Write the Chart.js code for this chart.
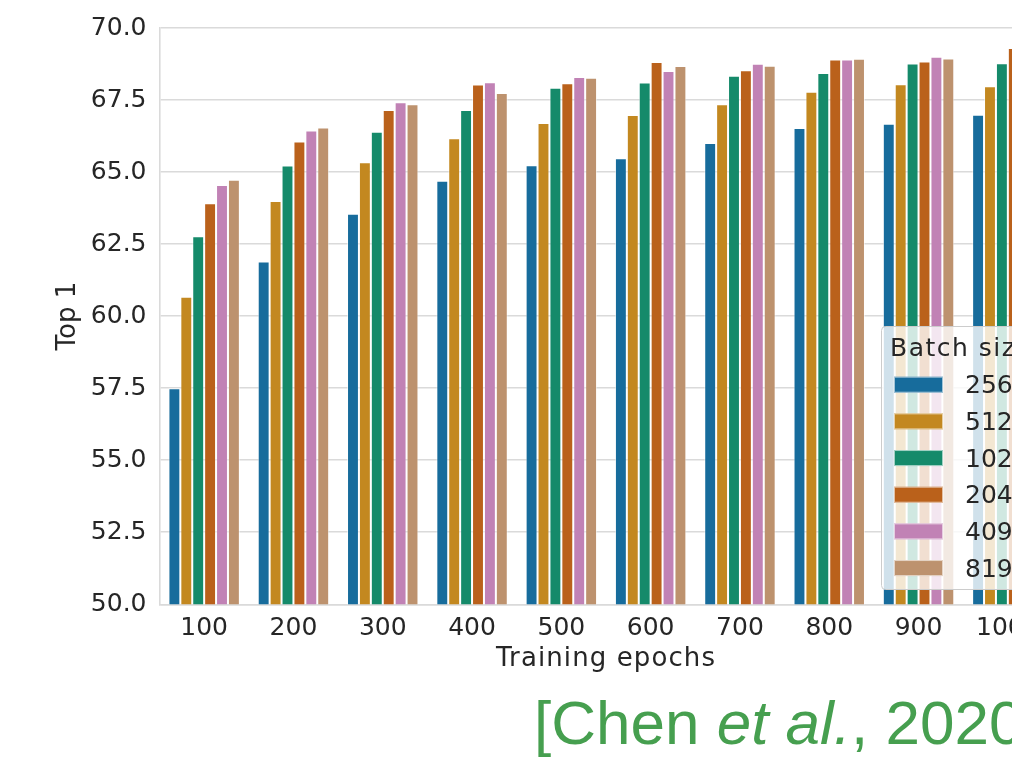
<!DOCTYPE html>
<html>
<head>
<meta charset="utf-8">
<script src="https://cdn.jsdelivr.net/npm/chart.js@4/dist/chart.umd.min.js"></script>
<style>
html,body{margin:0;padding:0;background:#ffffff;overflow:hidden;width:1012px;height:761px;}
#wrap{position:relative;width:1012px;height:761px;overflow:hidden;}
#c{position:absolute;left:0;top:0;}
#cite{position:absolute;left:534px;top:692px;font-family:"Liberation Sans",Arial,sans-serif;font-size:62px;line-height:62px;color:#469f4f;white-space:nowrap;}
</style>
</head>
<body>
<div id="wrap">
<canvas id="c" width="1062" height="761"></canvas>
<div id="cite">[Chen <i>et al.</i>, 2020]</div>
</div>
<script>
// ---- data ----
const categories = ['100','200','300','400','500','600','700','800','900','1000'];
const batchSizes = ['256','512','1024','2048','4096','8192'];
const bs256  = [57.50, 61.90, 63.55, 64.70, 65.24, 65.48, 66.01, 66.53, 66.68, 66.99];
const bs512  = [60.67, 64.00, 65.34, 66.17, 66.70, 66.98, 67.35, 67.79, 68.05, 67.98];
const bs1024 = [62.77, 65.23, 66.40, 67.15, 67.93, 68.11, 68.34, 68.44, 68.77, 68.78];
const bs2048 = [63.92, 66.06, 67.15, 68.04, 68.08, 68.82, 68.53, 68.91, 68.84, 69.31];
const bs4096 = [64.55, 66.44, 67.42, 68.12, 68.30, 68.51, 68.76, 68.91, 69.00, 69.30];
const bs8192 = [64.73, 66.55, 67.35, 67.74, 68.27, 68.68, 68.69, 68.93, 68.94, 69.20];
const yTicks = [50, 52.5, 55, 57.5, 60, 62.5, 65, 67.5, 70];
const xTitle = 'Training epochs';
const yTitle = 'Top 1';
const legendTitle = 'Batch size';

const seriesValues = [bs256, bs512, bs1024, bs2048, bs4096, bs8192];
const colors = ['#176c9c', '#c38820', '#158a6a', '#ba611b', '#c182b5', '#bd926e'];
const textColor = '#262626';
const gridColor = '#dadada';
const FONT = '"DejaVu Sans", sans-serif';

const datasets = batchSizes.map((b, i) => ({
  label: b,
  data: seriesValues[i],
  backgroundColor: colors[i],
  borderColor: 'rgba(255,255,255,0.55)',
  borderWidth: 1,
  categoryPercentage: 0.8,
  barPercentage: 1.0
}));

const boxLegend = {
  id: 'boxLegend',
  afterDraw(chart) {
    const ctx = chart.ctx;
    ctx.save();
    ctx.beginPath();
    ctx.roundRect(881.5, 326.5, 170, 263, 4);
    ctx.fillStyle = 'rgba(255,255,255,0.8)';
    ctx.fill();
    ctx.strokeStyle = '#cccccc';
    ctx.lineWidth = 1;
    ctx.stroke();
    ctx.font = '25px ' + FONT;
    ctx.textBaseline = 'alphabetic';
    ctx.textAlign = 'left';
    ctx.fillStyle = textColor;
    ctx.letterSpacing = '1.5px';
    ctx.fillText(legendTitle, 890, 356);
    ctx.letterSpacing = '0px';
    chart.data.datasets.forEach((ds, i) => {
      const cy = 384.7 + i * 36.67;
      ctx.fillStyle = ds.backgroundColor;
      ctx.fillRect(894, cy - 8, 49, 16);
      ctx.strokeStyle = 'rgba(255,255,255,0.6)';
      ctx.strokeRect(894.5, cy - 7.5, 48, 15);
      ctx.fillStyle = textColor;
      ctx.fillText(ds.label, 965, cy + 8.5);
    });
    ctx.restore();
  }
};

function spacedTitle(s, spacing) {
  if (s._spacedTitle) return;
  const orig = s.drawTitle.bind(s);
  s.drawTitle = function () {
    const ctx = this.ctx;
    ctx.save();
    ctx.letterSpacing = spacing;
    orig();
    ctx.restore();
  };
  s._spacedTitle = true;
}

new Chart(document.getElementById('c'), {
  type: 'bar',
  data: { labels: categories, datasets },
  plugins: [boxLegend],
  options: {
    responsive: false,
    devicePixelRatio: 1,
    animation: false,
    layout: { padding: { top: 23.3, right: 9.5, bottom: 0, left: 0 } },
    plugins: { legend: { display: false }, tooltip: { enabled: false } },
    scales: {
      x: {
        offset: true,
        grid: { display: false, drawTicks: false },
        border: { display: true, color: gridColor, width: 1.6 },
        ticks: { color: textColor, font: { family: FONT, size: 25 }, padding: 9, autoSkip: false, maxRotation: 0 },
        title: { display: true, text: xTitle, color: textColor, font: { family: FONT, size: 26 }, padding: { top: 0, bottom: 86 } },
        afterFit(s) { s.height = 156.7; spacedTitle(s, '1.1px'); }
      },
      y: {
        min: yTicks[0],
        max: yTicks[yTicks.length - 1],
        afterBuildTicks(s) { s.ticks = yTicks.map(v => ({ value: v })); },
        grid: { color: gridColor, lineWidth: 1.6, drawTicks: false },
        border: { display: true, color: gridColor, width: 1.6 },
        ticks: { color: textColor, font: { family: FONT, size: 25 }, padding: 13, callback: v => Number(v).toFixed(1) },
        title: { display: true, text: yTitle, color: textColor, font: { family: FONT, size: 26 }, padding: { top: 53, bottom: 0 } },
        afterFit(s) { s.width = 159.5; }
      }
    }
  }
});
</script>
</body>
</html>
